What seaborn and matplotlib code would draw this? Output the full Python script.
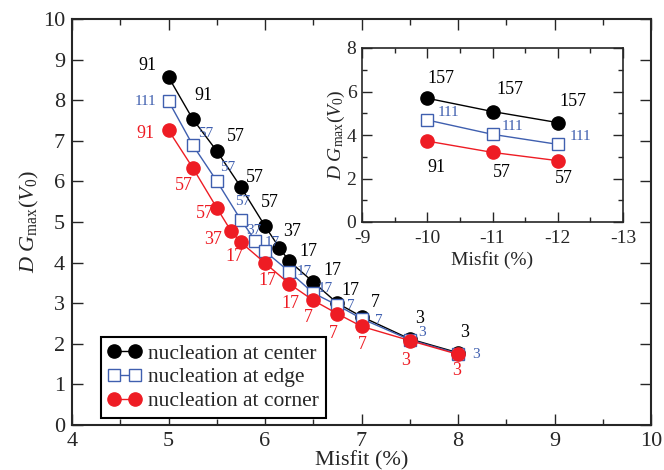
import matplotlib
matplotlib.use("Agg")
import matplotlib.pyplot as plt
from matplotlib.ticker import MultipleLocator
import seaborn as sns
import pandas as pd

# ---------------- data ----------------
center_x = [5.0, 5.25, 5.5, 5.75, 6.0, 6.15, 6.25, 6.5, 6.75, 7.0, 7.5, 8.0]
center_y = [8.57, 7.54, 6.75, 5.86, 4.90, 4.36, 4.04, 3.52, 3.00, 2.67, 2.12, 1.78]
center_n = [91, 91, 57, 57, 57, 37, 17, 17, 17, 7, 3, 3]

edge_x = [5.0, 5.25, 5.5, 5.75, 5.9, 6.0, 6.25, 6.5, 6.75, 7.0, 7.5, 8.0]
edge_y = [7.98, 6.90, 6.01, 5.05, 4.54, 4.28, 3.78, 3.25, 2.95, 2.62, 2.10, 1.76]
edge_n = [111, 57, 57, 57, 37, 17, 17, 17, 7, 7, 3, 3]

corner_x = [5.0, 5.25, 5.5, 5.65, 5.75, 6.0, 6.25, 6.5, 6.75, 7.0, 7.5, 8.0]
corner_y = [7.26, 6.34, 5.35, 4.77, 4.50, 3.99, 3.48, 3.07, 2.74, 2.43, 2.08, 1.74]
corner_n = [91, 57, 57, 37, 17, 17, 17, 7, 7, 7, 3, 3]

inset_x = [-10, -11, -12]
inset_center_y = [5.69, 5.08, 4.57]
inset_edge_y = [4.69, 4.03, 3.57]
inset_corner_y = [3.72, 3.20, 2.82]
inset_center_n = [157, 157, 157]
inset_edge_n = [111, 111, 111]
inset_corner_n = [91, 57, 57]

series_names = ["nucleation at center", "nucleation at edge", "nucleation at corner"]

# ---------------- styles ----------------
BLACK = "#000000"
BLUE = "#3F5FAF"
RED = "#EE1C24"

# label offsets in pixels (dx right, dy down)
center_off = [(-21, -12), (11, -23), (19, -14), (14, -10), (5, -24), (13, -16),
              (19, -9), (19, -12), (13, -13), (14, -14), (10, -20), (7, -20)]
edge_off = [(-23, 0), (13, -11), (11, -13), (2, -18), (-2, -10), (7, -9),
            (15, 0), (12, -5), (13, 0), (17, 2), (12, -7), (18, 1)]
corner_off = [(-23, 3), (-9, 18), (-12, 6), (-18, 8), (-6, 14), (2, 17),
              (1, 20), (-5, 17), (-4, 20), (1, 18), (-4, 20), (-1, 16)]
inset_center_off = [(14, -20), (17, -22), (15, -21)]
inset_edge_off = [(21, -7), (20, -8), (23, -8)]
inset_corner_off = [(9, 26), (9, 20), (6, 18)]

sns.set_style("ticks")
plt.rcParams["font.family"] = ["Liberation Serif", "DejaVu Serif"]
plt.rcParams["mathtext.fontset"] = "custom"
plt.rcParams["mathtext.rm"] = "Liberation Serif"
plt.rcParams["mathtext.it"] = "Liberation Serif:italic"
plt.rcParams["mathtext.bf"] = "Liberation Serif:bold"
plt.rcParams["axes.unicode_minus"] = False

fig = plt.figure(figsize=(6.64, 4.70), dpi=100)
ax = fig.add_axes([72 / 664, 1 - 425 / 470, (651 - 72) / 664, (425 - 19) / 470])

def draw(axis, xs, ys, color, marker, ms, label, face=None):
    df = pd.DataFrame({"x": xs, "y": ys})
    kw = dict(marker=marker, markersize=ms, markeredgecolor=color,
              markerfacecolor=(face if face is not None else color),
              markeredgewidth=1.0)
    sns.lineplot(data=df, x="x", y="y", ax=axis, color=color, sort=False,
                 estimator=None, linewidth=1.0, label=label, **kw)

def annotate(axis, xs, ys, ns, offs, color, size):
    for x, y, n, (dx, dy) in zip(xs, ys, ns, offs):
        axis.annotate(str(n), (x, y), xytext=(dx, -dy), textcoords="offset pixels",
                      ha="center", va="center", color=color, fontsize=size)

draw(ax, center_x, center_y, BLACK, "o", 9.5, series_names[0])
draw(ax, edge_x, edge_y, BLUE, "s", 8, series_names[1], face="white")
draw(ax, corner_x, corner_y, RED, "o", 9.5, series_names[2])

annotate(ax, center_x, center_y, center_n, center_off, BLACK, 13)
annotate(ax, edge_x, edge_y, edge_n, edge_off, BLUE, 11)
annotate(ax, corner_x, corner_y, corner_n, corner_off, RED, 13)

ax.set_xlim(4, 10)
ax.set_ylim(0, 10)
ax.xaxis.set_major_locator(MultipleLocator(1))
ax.xaxis.set_minor_locator(MultipleLocator(0.5))
ax.yaxis.set_major_locator(MultipleLocator(1))
ax.tick_params(which="both", direction="in", top=True, right=True, width=1.0)
ax.tick_params(which="major", length=8, labelsize=16, pad=5)
ax.tick_params(which="minor", length=4)
for s in ax.spines.values():
    s.set_linewidth(1.5)
ax.set_xlabel("Misfit (%)", fontsize=16, labelpad=0)
ax.set_ylabel(r"$D\ G_{\mathrm{max}}(V_0)$", fontsize=16, labelpad=1)

leg = ax.legend(loc="upper left", bbox_to_anchor=((101 - 72) / 579, (425 - 337) / 406),
                borderaxespad=0, numpoints=2, fontsize=15.5, frameon=True, fancybox=False,
                edgecolor="black", framealpha=1, handlelength=1.6, handletextpad=0.3,
                borderpad=0.3, labelspacing=0.18)
leg.get_frame().set_linewidth(1.5)

# ---------------- inset ----------------
ins = fig.add_axes([362 / 664, 1 - 222 / 470, (623 - 362) / 664, (222 - 48) / 470])
draw(ins, inset_x, inset_center_y, BLACK, "o", 9.5, None)
draw(ins, inset_x, inset_edge_y, BLUE, "s", 8, None, face="white")
draw(ins, inset_x, inset_corner_y, RED, "o", 9.5, None)
annotate(ins, inset_x, inset_center_y, inset_center_n, inset_center_off, BLACK, 13)
annotate(ins, inset_x, inset_edge_y, inset_edge_n, inset_edge_off, BLUE, 11)
annotate(ins, inset_x, inset_corner_y, inset_corner_n, inset_corner_off, BLACK, 13)
ins.set_xlim(-9, -13)
ins.set_ylim(0, 8)
ins.xaxis.set_major_locator(MultipleLocator(1))
ins.xaxis.set_minor_locator(MultipleLocator(0.5))
ins.yaxis.set_major_locator(MultipleLocator(2))
ins.yaxis.set_minor_locator(MultipleLocator(1))
ins.tick_params(which="both", direction="in", top=True, right=True, width=1.0)
ins.tick_params(which="major", length=7, labelsize=14, pad=4)
ins.tick_params(axis="x", which="major", pad=6)
ins.tick_params(which="minor", length=3.5)
for s in ins.spines.values():
    s.set_linewidth(1.2)
ins.set_xlabel("Misfit (%)", fontsize=14, labelpad=3)
ins.set_ylabel(r"$D\ G_{\mathrm{max}}(V_0)$", fontsize=14, labelpad=0)
if ins.get_legend() is not None:
    ins.get_legend().remove()

fig.savefig("out.png", dpi=100)
